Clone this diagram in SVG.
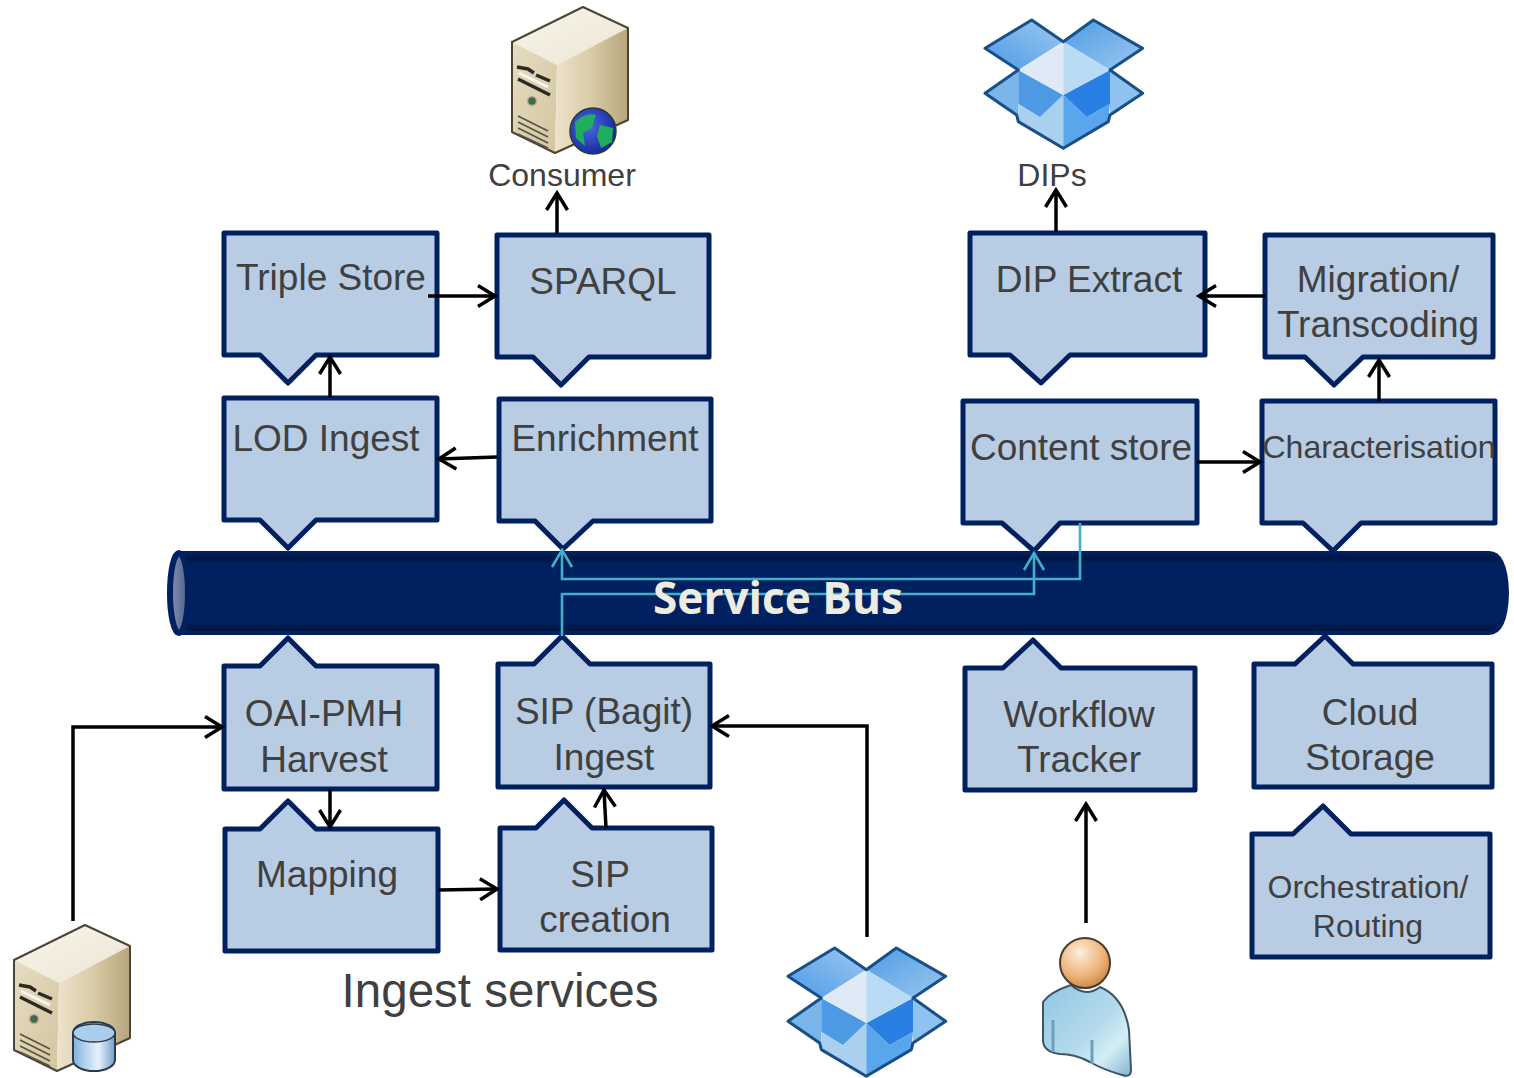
<svg xmlns="http://www.w3.org/2000/svg" width="1514" height="1078" viewBox="0 0 1514 1078">
<style>
text{font-family:"Liberation Sans",Arial,sans-serif;fill:#404040;text-anchor:middle}
.t37{font-size:37px}.t32{font-size:32px}
.box{fill:#b8cce4;stroke:#002060;stroke-width:5;stroke-linejoin:round}
.c{fill:none;stroke:#000;stroke-width:3.5;marker-end:url(#ah)}
.b{fill:none;stroke:#42aec8;stroke-width:2.6;marker-end:url(#aht)}
</style>
<defs>
<marker id="ah" markerUnits="userSpaceOnUse" markerWidth="24" markerHeight="28" refX="20" refY="14" orient="auto"><path d="M3 3.500L20 14L3 24.500" fill="none" stroke="#000" stroke-width="3.500"/></marker>
<marker id="aht" markerUnits="userSpaceOnUse" markerWidth="24" markerHeight="28" refX="20" refY="14" orient="auto"><path d="M3 4L20 14L3 24" fill="none" stroke="#42aec8" stroke-width="2.600"/></marker>
<linearGradient id="busV" x1="0" y1="0" x2="0" y2="1"><stop offset="0" stop-color="#001540"/><stop offset=".08" stop-color="#001848"/><stop offset=".14" stop-color="#002060"/><stop offset=".86" stop-color="#002060"/><stop offset=".93" stop-color="#001848"/><stop offset="1" stop-color="#001540"/></linearGradient>
<linearGradient id="cap" x1="0" y1="0" x2="1" y2="0"><stop offset="0" stop-color="#8492ad"/><stop offset="1" stop-color="#4e6088"/></linearGradient>
<linearGradient id="sTop" x1="0" y1="0" x2="1" y2="1"><stop offset="0" stop-color="#f8f5ea"/><stop offset="1" stop-color="#ebe5d3"/></linearGradient>
<linearGradient id="sFront" x1="0" y1="0" x2="1" y2="1"><stop offset="0" stop-color="#e6dcc0"/><stop offset="1" stop-color="#d3c5a0"/></linearGradient>
<linearGradient id="sSide" x1="0" y1="0" x2="1" y2="0"><stop offset="0" stop-color="#ece3cc"/><stop offset=".5" stop-color="#d9cba6"/><stop offset="1" stop-color="#b7a67c"/></linearGradient>
<radialGradient id="globe" cx=".4" cy=".4" r=".7"><stop offset="0" stop-color="#4a6ae0"/><stop offset="1" stop-color="#10209a"/></radialGradient>
<radialGradient id="head" cx=".4" cy=".3" r=".75"><stop offset="0" stop-color="#fdeede"/><stop offset=".6" stop-color="#efb47c"/><stop offset="1" stop-color="#c88440"/></radialGradient>
<linearGradient id="body" x1="0" y1="0" x2="1" y2="1"><stop offset="0" stop-color="#8fc6e6"/><stop offset=".55" stop-color="#b6dcec"/><stop offset=".75" stop-color="#d4eef4"/><stop offset="1" stop-color="#7fb4d2"/></linearGradient>
<linearGradient id="cyl" x1="0" y1="0" x2="1" y2="0"><stop offset="0" stop-color="#7fb2e0"/><stop offset=".6" stop-color="#e8f2fa"/><stop offset="1" stop-color="#6fa0c8"/></linearGradient>
<linearGradient id="flapL" x1="0" y1="1" x2="1" y2="0"><stop offset="0" stop-color="#4d9be6"/><stop offset="1" stop-color="#9cc8ef"/></linearGradient>
<linearGradient id="flapR" x1="0" y1="0" x2="1" y2="1"><stop offset="0" stop-color="#4d9be6"/><stop offset="1" stop-color="#9cc8ef"/></linearGradient>
<g id="server">
<path d="M2 35L73 0L118 21L47 58Z" fill="url(#sTop)"/>
<path d="M2 35L47 58L45 146L2 125Z" fill="url(#sFront)"/>
<path d="M47 58L118 21L118 113L45 146Z" fill="url(#sSide)"/>
<path d="M2 35L73 0L118 21L118 113L45 146L2 125Z" fill="none" stroke="#4a4536" stroke-width="2" stroke-linejoin="round"/>
<path d="M7 60L18 62L24 66M26 68L40 74M8 72L40 88" stroke="#2c2a24" stroke-width="3.500" fill="none"/>
<path d="M9 66L38 80" stroke="#f8f6ee" stroke-width="3" fill="none"/>
<circle cx="22" cy="94" r="4.500" fill="#3d6a50" stroke="#b8b090" stroke-width="1.500"/>
<path d="M8 109L38 124M8 115L38 130M8 121L38 136M8 127L38 141" stroke="#5a5444" stroke-width="1.700" fill="none"/>
</g>
<g id="dropbox">
<path d="M215 60L310 125L175 210L75 145Z" fill="url(#flapL)"/>
<path d="M400 60L548 145L450 210L310 125Z" fill="url(#flapR)"/>
<path d="M175 210L75 280L170 345L175 345Z" fill="#7ab5ea"/>
<path d="M450 210L548 280L450 345Z" fill="#8fc2ee"/>
<path d="M175 210L310 285L240 352L175 312Z" fill="#4f9ae4"/>
<path d="M450 210L310 285L380 352L450 312Z" fill="#2a80e2"/>
<path d="M175 312L240 352L310 285L310 445L175 365Z" fill="#a9d0ef"/>
<path d="M450 312L380 352L310 285L310 445L445 365Z" fill="#5aa6ec"/>
<path d="M310 125L175 210L310 285Z" fill="#dfeaf6"/>
<path d="M310 125L450 210L310 285Z" fill="#b9dbf6"/>
<path d="M215 60L310 125L400 60L548 145L450 210L548 280L450 345L445 365L310 445L175 365L170 345L75 280L175 210L75 145Z" fill="none" stroke="#174f86" stroke-width="9" stroke-linejoin="round"/>
</g>
</defs>
<rect width="1514" height="1078" fill="#fff"/>
<g id="service-bus">
<path d="M181 553H1489Q1506 553 1507 593Q1506 633 1489 633H181Z" fill="url(#busV)" stroke="#002060" stroke-width="4"/>
<ellipse cx="179" cy="593" rx="9" ry="40" fill="url(#cap)" stroke="#002060" stroke-width="6"/>
</g>
<g id="triple-store"><path class="box" d="M224 233H437V355H316L288 383L260 355H224Z"/><text class="t37" x="331" y="290">Triple Store</text></g>
<g id="sparql"><path class="box" d="M497 235H709V357H589L561 385L533 357H497Z"/><text class="t37" x="603" y="294">SPARQL</text></g>
<g id="lod-ingest"><path class="box" d="M224 398H437V520H316L288 548L260 520H224Z"/><text class="t37" x="326" y="451">LOD Ingest</text></g>
<g id="enrichment"><path class="box" d="M499 399H711V521H593L563 549L535 521H499Z"/><text class="t37" x="605" y="451">Enrichment</text></g>
<g id="dip-extract"><path class="box" d="M970 233H1205V355H1070L1041 383L1010 355H970Z"/><text class="t37" x="1089" y="292">DIP Extract</text></g>
<g id="migration"><path class="box" d="M1265 235H1493V357H1363L1334 385L1305 357H1265Z"/><text class="t37" x="1378" y="292">Migration/</text><text class="t37" x="1378" y="337">Transcoding</text></g>
<g id="content-store"><path class="box" d="M963 401H1197V523H1060L1034 551L1002 523H963Z"/><text class="t37" x="1081" y="460">Content store</text></g>
<g id="characterisation"><path class="box" d="M1262 401H1495V523H1361L1333 551L1303 523H1262Z"/><text class="t32" x="1379" y="458">Characterisation</text></g>
<g id="oai-pmh"><path class="box" d="M224 666H260L288 638L316 666H437V789H224Z"/><text class="t37" x="324" y="726">OAI-PMH</text><text class="t37" x="324" y="772">Harvest</text></g>
<g id="sip-bagit"><path class="box" d="M498 664H534L562 636L590 664H710V787H498Z"/><text class="t37" x="604" y="724">SIP (Bagit)</text><text class="t37" x="604" y="770">Ingest</text></g>
<g id="workflow-tracker"><path class="box" d="M965 668H1003L1033 640L1061 668H1195V790H965Z"/><text class="t37" x="1079" y="727">Workflow</text><text class="t37" x="1079" y="772">Tracker</text></g>
<g id="cloud-storage"><path class="box" d="M1254 664H1295L1325 636L1353 664H1492V787H1254Z"/><text class="t37" x="1370" y="725">Cloud</text><text class="t37" x="1370" y="770">Storage</text></g>
<g id="mapping"><path class="box" d="M225 829H260L288 801L316 829H438V951H225Z"/><text class="t37" x="327" y="887">Mapping</text></g>
<g id="sip-creation"><path class="box" d="M500 828H536L564 800L592 828H712V950H500Z"/><text class="t37" x="600" y="887">SIP</text><text class="t37" x="605" y="932">creation</text></g>
<g id="orchestration"><path class="box" d="M1252 834H1293L1323 806L1351 834H1490V957H1252Z"/><text class="t32" x="1368" y="898">Orchestration/</text><text class="t32" x="1368" y="937">Routing</text></g>
<g id="consumer"><use href="#server" transform="translate(510 7)"/><circle cx="593" cy="131" r="23" fill="url(#globe)" stroke="#2a3a30" stroke-width="1.500"/><path d="M575 122Q586 112 596 115L592 128L583 133L585 146L576 138Z" fill="#1fae5e"/><path d="M600 125L613 128L612 142L601 148L597 136Z" fill="#1fae5e"/><text class="t32" x="562" y="186">Consumer</text></g>
<g id="dips"><use href="#dropbox" transform="translate(960 0) scale(.3333)"/><text class="t32" x="1052" y="186">DIPs</text></g>
<g id="source-server"><use href="#server" transform="translate(12 925)"/><path d="M73 1033A21 11 0 0 1 115 1033V1060A21 11 0 0 1 73 1060Z" fill="url(#cyl)" stroke="#2a3a4a" stroke-width="2"/><ellipse cx="94" cy="1033" rx="21" ry="9" fill="#a9cdea" stroke="#2a3a4a" stroke-width="1.500"/></g>
<g id="source-dropbox"><use href="#dropbox" transform="translate(763 928) scale(.3333)"/></g>
<g id="user">
<path d="M1043 1002Q1050 992 1071 985Q1086 998 1100 987Q1124 997 1129 1030L1131 1070Q1131 1078 1122 1075Q1104 1070 1090 1062Q1075 1054 1060 1054Q1043 1052 1043 1040Z" fill="url(#body)" stroke="#3d5566" stroke-width="2"/>
<path d="M1053 1020V1052M1092 1040V1064" stroke="#6d9fbf" stroke-width="3"/>
<circle cx="1085" cy="963" r="25" fill="url(#head)" stroke="#4a3a2a" stroke-width="2"/>
</g>
<text id="ingest-services" x="500" y="1007" style="font-size:47.500px">Ingest services</text>
<g id="connectors">
<path class="c" d="M557 234V193"/>
<path class="c" d="M428 296H495"/>
<path class="c" d="M330 398V357"/>
<path class="c" d="M497 457L439 459"/>
<path class="c" d="M1056 232V190"/>
<path class="c" d="M1265 296H1199"/>
<path class="c" d="M1379 401V360"/>
<path class="c" d="M1197 462H1260"/>
<path class="c" d="M73 921V727H222"/>
<path class="c" d="M330 789V827"/>
<path class="c" d="M438 890L497 889"/>
<path class="c" d="M606 828L604 790"/>
<path class="c" d="M867 937V726H712"/>
<path class="c" d="M1086 923V804"/>
<path class="b" d="M1080 523V579H562V550"/>
<path class="b" d="M562 636V594H1034V553"/>
</g>
<text id="service-bus-label" x="778" y="614" style="font-family:'Open Sans',sans-serif;font-weight:700;font-size:44px;fill:#eeece1" textLength="250" lengthAdjust="spacingAndGlyphs">Service Bus</text>
</svg>
